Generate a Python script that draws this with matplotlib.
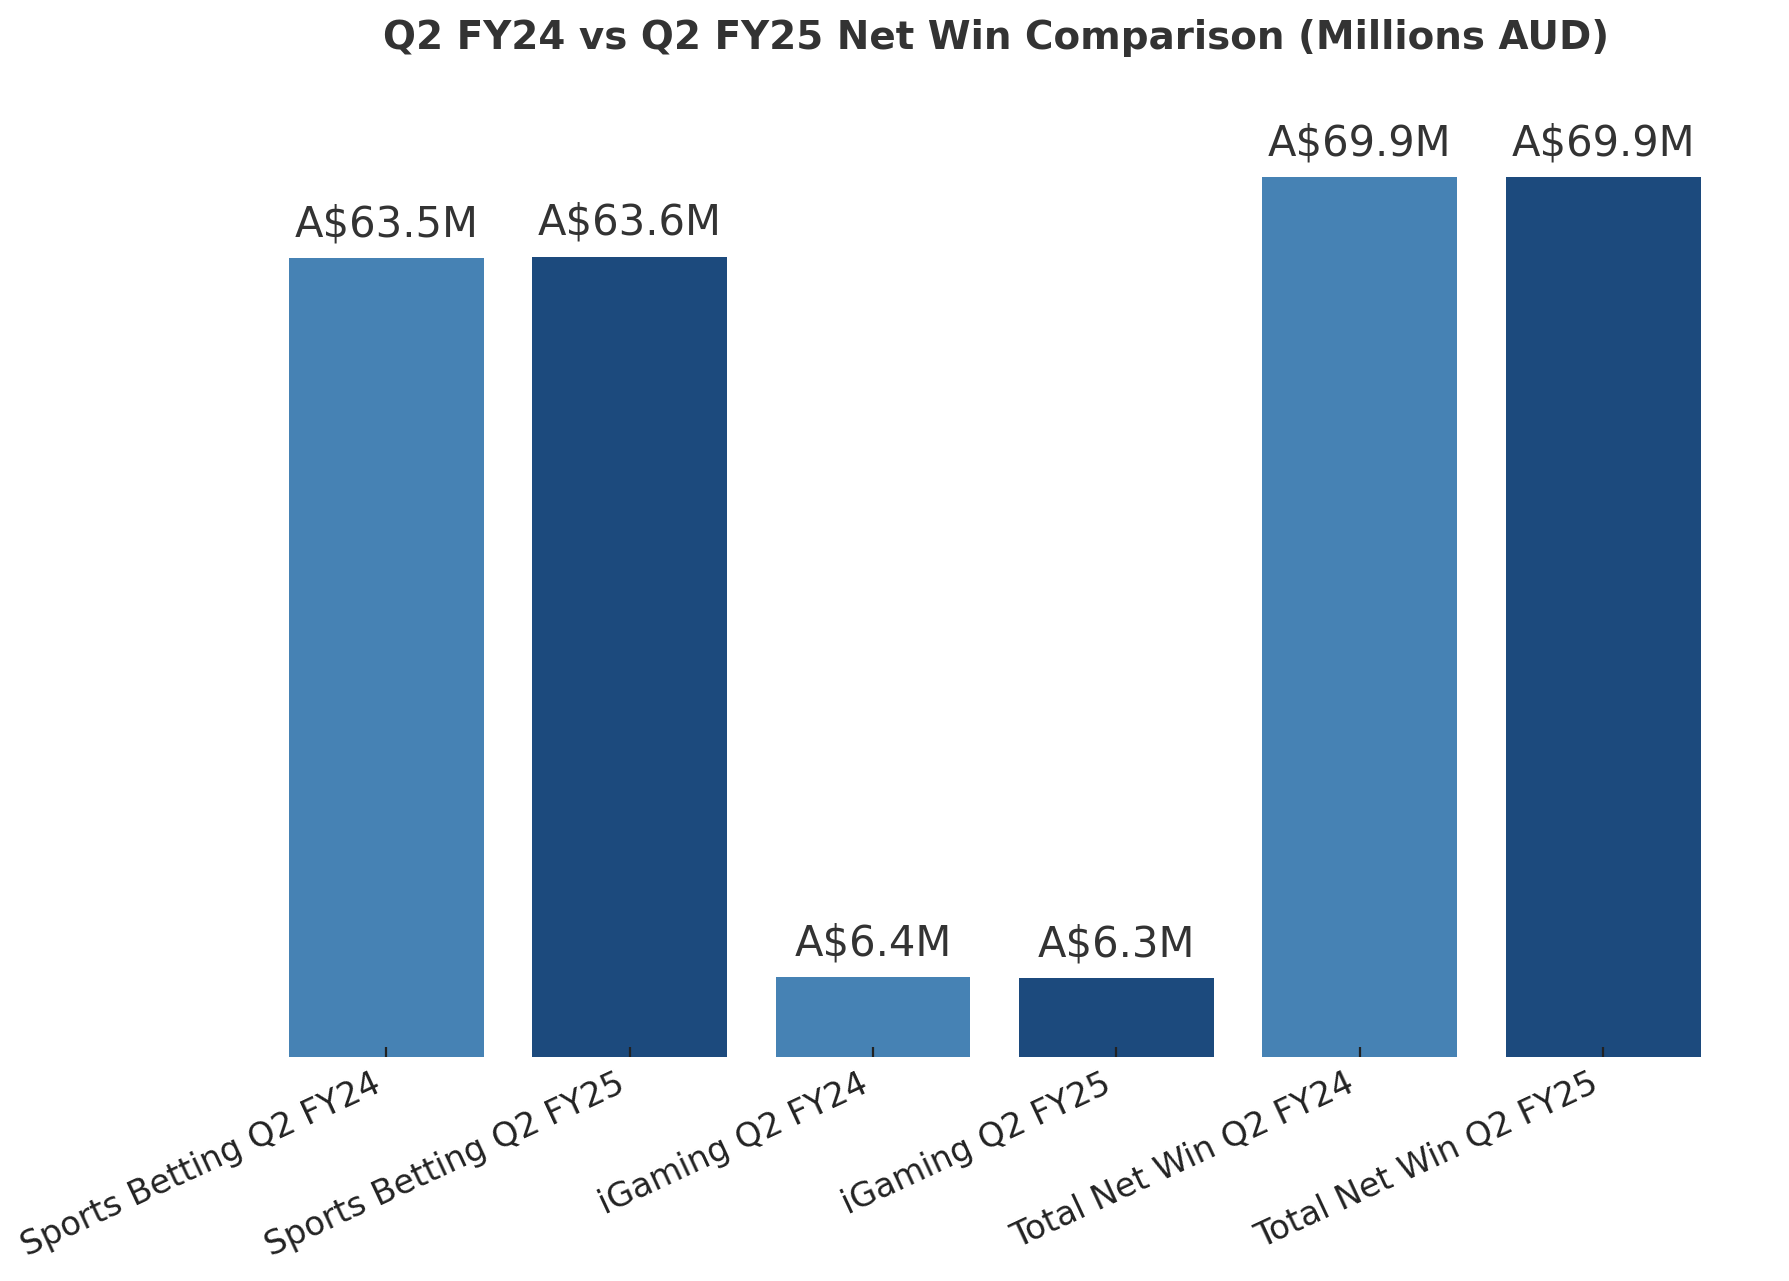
import matplotlib
matplotlib.use("Agg")
import matplotlib.pyplot as plt

categories = ["Sports Betting Q2 FY24", "Sports Betting Q2 FY25",
              "iGaming Q2 FY24", "iGaming Q2 FY25",
              "Total Net Win Q2 FY24", "Total Net Win Q2 FY25"]
values = [63.5, 63.6, 6.4, 6.3, 69.9, 69.9]
colors = ["#4682B4", "#1C4A7D", "#4682B4", "#1C4A7D", "#4682B4", "#1C4A7D"]
title = "Q2 FY24 vs Q2 FY25 Net Win Comparison (Millions AUD)"

fig = plt.figure(figsize=(8.945, 6.405), dpi=200)
ax = fig.add_axes([0.122, 0.1746, 0.868, 0.7214])
x = list(range(len(categories)))
bars = ax.bar(x, values, color=colors, width=0.8)
for b, v in zip(bars, values):
    ax.text(b.get_x() + b.get_width() / 2, v + 1.0, f"A${v}M",
            ha="center", va="bottom", fontsize=15, color="#333333")
ax.set_xticks(x)
ax.set_xticklabels(categories, rotation=25, ha="right", fontsize=12.1, color="#222222")
ax.tick_params(axis="x", direction="in", length=3.5, color="#222222")
ax.set_yticks([])
for s in ax.spines.values():
    s.set_visible(False)
fig.text(0.557, 0.97, title, ha="center", va="center", fontsize=14,
         fontweight="bold", color="#333333")
fig.savefig("out.png", dpi=200)
